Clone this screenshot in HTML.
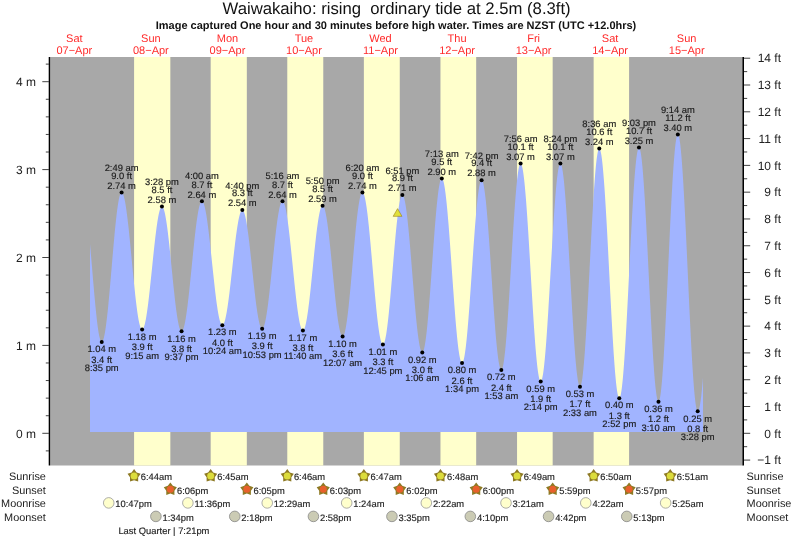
<!DOCTYPE html>
<html><head><meta charset="utf-8"><title>Waiwakaiho tide</title>
<style>
html,body{margin:0;padding:0;background:#fff;}
svg{display:block;}
text{font-family:"Liberation Sans",Arial,Helvetica,sans-serif;fill:#1a1a1a;text-rendering:geometricPrecision;}
.title{font-size:16.7px;text-anchor:middle;fill:#111;}
.sub{font-size:11px;font-weight:bold;text-anchor:middle;fill:#111;}
.day{font-size:11px;text-anchor:middle;fill:#ff2a2a;}
.ax{font-size:12px;fill:#222;}
.dl{font-size:9.4px;text-anchor:middle;fill:#1a1a1a;stroke:#1a1a1a;stroke-width:0.15px;}
.bt{font-size:9.4px;fill:#222;stroke:#222;stroke-width:0.15px;}
.rl{font-size:10.9px;fill:#222;}
</style></head>
<body>
<svg width="793" height="539" viewBox="0 0 793 539">
<rect x="0" y="0" width="793" height="539" fill="#fff"/>
<rect x="50.0" y="57.0" width="692.5" height="408.5" fill="#a8a8a8"/>
<rect x="134.09" y="57.0" width="36.25" height="408.5" fill="#ffffcc"/>
<rect x="210.68" y="57.0" width="36.14" height="408.5" fill="#ffffcc"/>
<rect x="287.28" y="57.0" width="35.98" height="408.5" fill="#ffffcc"/>
<rect x="363.87" y="57.0" width="35.88" height="408.5" fill="#ffffcc"/>
<rect x="440.46" y="57.0" width="35.72" height="408.5" fill="#ffffcc"/>
<rect x="517.05" y="57.0" width="35.61" height="408.5" fill="#ffffcc"/>
<rect x="593.64" y="57.0" width="35.45" height="408.5" fill="#ffffcc"/>
<path d="M90.00,432.00 L90.00,244.08 L90.38,248.32 L90.77,252.66 L91.15,257.08 L91.53,261.56 L91.92,266.07 L92.30,270.60 L92.68,275.14 L93.06,279.66 L93.45,284.15 L93.83,288.58 L94.21,292.94 L94.60,297.21 L94.98,301.37 L95.36,305.41 L95.75,309.31 L96.13,313.05 L96.51,316.62 L96.90,320.00 L97.28,323.18 L97.66,326.14 L98.05,328.88 L98.43,331.38 L98.81,333.64 L99.20,335.63 L99.58,337.37 L99.96,338.82 L100.34,340.00 L100.73,340.90 L101.11,341.51 L101.49,341.83 L101.88,341.86 L102.26,341.62 L102.64,341.10 L103.03,340.31 L103.41,339.25 L103.79,337.93 L104.18,336.35 L104.56,334.51 L104.94,332.43 L105.33,330.11 L105.71,327.56 L106.09,324.78 L106.47,321.80 L106.86,318.61 L107.24,315.24 L107.62,311.69 L108.01,307.98 L108.39,304.12 L108.77,300.12 L109.16,296.00 L109.54,291.78 L109.92,287.47 L110.31,283.08 L110.69,278.63 L111.07,274.14 L111.45,269.63 L111.84,265.10 L112.22,260.59 L112.60,256.10 L112.99,251.65 L113.37,247.25 L113.75,242.93 L114.14,238.70 L114.52,234.57 L114.90,230.56 L115.29,226.69 L115.67,222.96 L116.05,219.40 L116.44,216.01 L116.82,212.81 L117.20,209.81 L117.59,207.02 L117.97,204.44 L118.35,202.10 L118.73,200.00 L119.12,198.14 L119.50,196.54 L119.88,195.19 L120.27,194.11 L120.65,193.30 L121.03,192.76 L121.42,192.49 L121.80,192.49 L122.18,192.72 L122.57,193.20 L122.95,193.91 L123.33,194.84 L123.72,196.01 L124.10,197.40 L124.48,199.01 L124.86,200.83 L125.25,202.86 L125.63,205.09 L126.01,207.51 L126.40,210.11 L126.78,212.89 L127.16,215.84 L127.55,218.94 L127.93,222.19 L128.31,225.57 L128.70,229.07 L129.08,232.68 L129.46,236.39 L129.84,240.19 L130.23,244.05 L130.61,247.98 L130.99,251.95 L131.38,255.95 L131.76,259.96 L132.14,263.98 L132.53,268.00 L132.91,271.98 L133.29,275.93 L133.68,279.83 L134.06,283.66 L134.44,287.42 L134.83,291.08 L135.21,294.64 L135.59,298.09 L135.97,301.41 L136.36,304.59 L136.74,307.62 L137.12,310.48 L137.51,313.18 L137.89,315.70 L138.27,318.03 L138.66,320.17 L139.04,322.10 L139.42,323.82 L139.81,325.32 L140.19,326.61 L140.57,327.66 L140.96,328.49 L141.34,329.09 L141.72,329.45 L142.10,329.58 L142.49,329.47 L142.87,329.14 L143.25,328.59 L143.64,327.81 L144.02,326.81 L144.40,325.59 L144.79,324.16 L145.17,322.53 L145.55,320.69 L145.94,318.66 L146.32,316.45 L146.70,314.05 L147.09,311.49 L147.47,308.76 L147.85,305.89 L148.24,302.88 L148.62,299.73 L149.00,296.47 L149.38,293.11 L149.77,289.66 L150.15,286.12 L150.53,282.52 L150.92,278.86 L151.30,275.17 L151.68,271.45 L152.07,267.71 L152.45,263.98 L152.83,260.26 L153.22,256.57 L153.60,252.93 L153.98,249.34 L154.37,245.82 L154.75,242.38 L155.13,239.03 L155.51,235.79 L155.90,232.67 L156.28,229.68 L156.66,226.83 L157.05,224.14 L157.43,221.60 L157.81,219.24 L158.20,217.06 L158.58,215.06 L158.96,213.26 L159.35,211.66 L159.73,210.27 L160.11,209.09 L160.50,208.13 L160.88,207.39 L161.26,206.88 L161.64,206.59 L162.03,206.52 L162.41,206.69 L162.79,207.09 L163.18,207.73 L163.56,208.60 L163.94,209.69 L164.33,211.00 L164.71,212.54 L165.09,214.28 L165.48,216.24 L165.86,218.39 L166.24,220.73 L166.62,223.25 L167.01,225.94 L167.39,228.80 L167.77,231.81 L168.16,234.95 L168.54,238.23 L168.92,241.62 L169.31,245.11 L169.69,248.69 L170.07,252.35 L170.46,256.07 L170.84,259.84 L171.22,263.65 L171.61,267.47 L171.99,271.30 L172.37,275.12 L172.75,278.92 L173.14,282.68 L173.52,286.39 L173.90,290.03 L174.29,293.59 L174.67,297.06 L175.05,300.42 L175.44,303.67 L175.82,306.78 L176.20,309.75 L176.59,312.57 L176.97,315.23 L177.35,317.71 L177.74,320.00 L178.12,322.10 L178.50,324.01 L178.88,325.70 L179.27,327.19 L179.65,328.45 L180.03,329.49 L180.42,330.30 L180.80,330.88 L181.18,331.22 L181.57,331.34 L181.95,331.22 L182.33,330.87 L182.72,330.30 L183.10,329.50 L183.48,328.49 L183.87,327.25 L184.25,325.81 L184.63,324.15 L185.02,322.30 L185.40,320.24 L185.78,318.00 L186.16,315.58 L186.55,312.99 L186.93,310.23 L187.31,307.32 L187.70,304.26 L188.08,301.08 L188.46,297.77 L188.85,294.35 L189.23,290.83 L189.61,287.23 L190.00,283.55 L190.38,279.82 L190.76,276.03 L191.15,272.22 L191.53,268.38 L191.91,264.53 L192.29,260.69 L192.68,256.87 L193.06,253.09 L193.44,249.35 L193.83,245.67 L194.21,242.06 L194.59,238.53 L194.98,235.10 L195.36,231.79 L195.74,228.59 L196.13,225.52 L196.51,222.60 L196.89,219.83 L197.28,217.22 L197.66,214.78 L198.04,212.52 L198.42,210.45 L198.81,208.58 L199.19,206.91 L199.57,205.44 L199.96,204.19 L200.34,203.16 L200.72,202.34 L201.11,201.75 L201.49,201.38 L201.87,201.25 L202.26,201.33 L202.64,201.63 L203.02,202.14 L203.41,202.87 L203.79,203.80 L204.17,204.94 L204.55,206.29 L204.94,207.83 L205.32,209.57 L205.70,211.49 L206.09,213.59 L206.47,215.86 L206.85,218.30 L207.24,220.90 L207.62,223.64 L208.00,226.52 L208.39,229.52 L208.77,232.65 L209.15,235.88 L209.53,239.20 L209.92,242.61 L210.30,246.09 L210.68,249.63 L211.07,253.22 L211.45,256.84 L211.83,260.48 L212.22,264.14 L212.60,267.79 L212.98,271.42 L213.37,275.03 L213.75,278.59 L214.13,282.10 L214.52,285.55 L214.90,288.92 L215.28,292.20 L215.66,295.37 L216.05,298.44 L216.43,301.38 L216.81,304.20 L217.20,306.86 L217.58,309.38 L217.96,311.74 L218.35,313.92 L218.73,315.93 L219.11,317.76 L219.50,319.40 L219.88,320.84 L220.26,322.09 L220.65,323.12 L221.03,323.95 L221.41,324.57 L221.80,324.98 L222.18,325.17 L222.56,325.14 L222.94,324.91 L223.33,324.47 L223.71,323.82 L224.09,322.97 L224.48,321.92 L224.86,320.67 L225.24,319.23 L225.63,317.60 L226.01,315.79 L226.39,313.81 L226.78,311.66 L227.16,309.35 L227.54,306.88 L227.92,304.28 L228.31,301.54 L228.69,298.68 L229.07,295.71 L229.46,292.63 L229.84,289.46 L230.22,286.22 L230.61,282.91 L230.99,279.54 L231.37,276.12 L231.76,272.68 L232.14,269.22 L232.52,265.75 L232.91,262.29 L233.29,258.85 L233.67,255.44 L234.06,252.08 L234.44,248.77 L234.82,245.53 L235.20,242.37 L235.59,239.30 L235.97,236.33 L236.35,233.48 L236.74,230.75 L237.12,228.16 L237.50,225.70 L237.89,223.40 L238.27,221.26 L238.65,219.29 L239.04,217.49 L239.42,215.88 L239.80,214.45 L240.19,213.22 L240.57,212.18 L240.95,211.34 L241.33,210.71 L241.72,210.28 L242.10,210.07 L242.48,210.06 L242.87,210.26 L243.25,210.69 L243.63,211.33 L244.02,212.19 L244.40,213.26 L244.78,214.53 L245.17,216.01 L245.55,217.68 L245.93,219.54 L246.31,221.59 L246.70,223.81 L247.08,226.20 L247.46,228.75 L247.85,231.45 L248.23,234.29 L248.61,237.25 L249.00,240.34 L249.38,243.53 L249.76,246.82 L250.15,250.19 L250.53,253.63 L250.91,257.14 L251.30,260.68 L251.68,264.26 L252.06,267.85 L252.44,271.45 L252.83,275.05 L253.21,278.62 L253.59,282.16 L253.98,285.65 L254.36,289.08 L254.74,292.44 L255.13,295.72 L255.51,298.89 L255.89,301.96 L256.28,304.91 L256.66,307.73 L257.04,310.40 L257.43,312.93 L257.81,315.29 L258.19,317.49 L258.57,319.50 L258.96,321.34 L259.34,322.98 L259.72,324.42 L260.11,325.66 L260.49,326.69 L260.87,327.52 L261.26,328.12 L261.64,328.52 L262.02,328.69 L262.41,328.64 L262.79,328.37 L263.17,327.88 L263.56,327.17 L263.94,326.25 L264.32,325.11 L264.71,323.75 L265.09,322.20 L265.47,320.44 L265.85,318.49 L266.24,316.35 L266.62,314.03 L267.00,311.55 L267.39,308.89 L267.77,306.09 L268.15,303.14 L268.54,300.06 L268.92,296.85 L269.30,293.54 L269.69,290.12 L270.07,286.62 L270.45,283.04 L270.84,279.39 L271.22,275.70 L271.60,271.97 L271.98,268.21 L272.37,264.45 L272.75,260.68 L273.13,256.93 L273.52,253.21 L273.90,249.53 L274.28,245.90 L274.67,242.34 L275.05,238.86 L275.43,235.47 L275.82,232.19 L276.20,229.02 L276.58,225.97 L276.97,223.06 L277.35,220.30 L277.73,217.69 L278.11,215.25 L278.50,212.98 L278.88,210.89 L279.26,208.99 L279.65,207.29 L280.03,205.79 L280.41,204.50 L280.80,203.42 L281.18,202.55 L281.56,201.90 L281.95,201.47 L282.33,201.26 L282.71,201.28 L283.09,201.52 L283.48,201.99 L283.86,202.67 L284.24,203.58 L284.63,204.70 L285.01,206.04 L285.39,207.58 L285.78,209.32 L286.16,211.27 L286.54,213.40 L286.93,215.71 L287.31,218.20 L287.69,220.86 L288.08,223.67 L288.46,226.62 L288.84,229.72 L289.23,232.94 L289.61,236.27 L289.99,239.71 L290.37,243.23 L290.76,246.84 L291.14,250.51 L291.52,254.24 L291.91,258.00 L292.29,261.80 L292.67,265.60 L293.06,269.41 L293.44,273.21 L293.82,276.98 L294.21,280.71 L294.59,284.39 L294.97,288.01 L295.36,291.54 L295.74,294.99 L296.12,298.34 L296.50,301.58 L296.89,304.69 L297.27,307.66 L297.65,310.49 L298.04,313.17 L298.42,315.68 L298.80,318.01 L299.19,320.17 L299.57,322.14 L299.95,323.91 L300.34,325.48 L300.72,326.84 L301.10,327.99 L301.49,328.92 L301.87,329.64 L302.25,330.13 L302.63,330.40 L303.02,330.45 L303.40,330.26 L303.78,329.84 L304.17,329.19 L304.55,328.31 L304.93,327.20 L305.32,325.88 L305.70,324.33 L306.08,322.58 L306.47,320.62 L306.85,318.46 L307.23,316.12 L307.62,313.60 L308.00,310.90 L308.38,308.05 L308.76,305.04 L309.15,301.90 L309.53,298.63 L309.91,295.24 L310.30,291.75 L310.68,288.18 L311.06,284.53 L311.45,280.82 L311.83,277.06 L312.21,273.26 L312.60,269.45 L312.98,265.63 L313.36,261.82 L313.75,258.03 L314.13,254.28 L314.51,250.59 L314.89,246.95 L315.28,243.40 L315.66,239.94 L316.04,236.58 L316.43,233.35 L316.81,230.24 L317.19,227.27 L317.58,224.46 L317.96,221.81 L318.34,219.33 L318.73,217.04 L319.11,214.93 L319.49,213.03 L319.88,211.33 L320.26,209.84 L320.64,208.58 L321.02,207.53 L321.41,206.71 L321.79,206.12 L322.17,205.76 L322.56,205.64 L322.94,205.75 L323.32,206.10 L323.71,206.68 L324.09,207.49 L324.47,208.53 L324.86,209.80 L325.24,211.29 L325.62,213.00 L326.00,214.91 L326.39,217.03 L326.77,219.34 L327.15,221.84 L327.54,224.52 L327.92,227.37 L328.30,230.37 L328.69,233.52 L329.07,236.81 L329.45,240.22 L329.84,243.74 L330.22,247.36 L330.60,251.07 L330.99,254.84 L331.37,258.68 L331.75,262.56 L332.13,266.48 L332.52,270.41 L332.90,274.34 L333.28,278.26 L333.67,282.15 L334.05,286.01 L334.43,289.81 L334.82,293.54 L335.20,297.20 L335.58,300.76 L335.97,304.21 L336.35,307.54 L336.73,310.74 L337.12,313.80 L337.50,316.71 L337.88,319.45 L338.27,322.01 L338.65,324.39 L339.03,326.58 L339.41,328.58 L339.80,330.36 L340.18,331.93 L340.56,333.28 L340.95,334.40 L341.33,335.30 L341.71,335.97 L342.10,336.40 L342.48,336.60 L342.86,336.55 L343.25,336.24 L343.63,335.67 L344.01,334.83 L344.39,333.74 L344.78,332.39 L345.16,330.79 L345.54,328.94 L345.93,326.86 L346.31,324.55 L346.69,322.02 L347.08,319.27 L347.46,316.33 L347.84,313.19 L348.23,309.88 L348.61,306.39 L348.99,302.76 L349.38,298.98 L349.76,295.07 L350.14,291.06 L350.53,286.94 L350.91,282.74 L351.29,278.48 L351.67,274.16 L352.06,269.81 L352.44,265.44 L352.82,261.06 L353.21,256.70 L353.59,252.37 L353.97,248.08 L354.36,243.85 L354.74,239.70 L355.12,235.64 L355.51,231.69 L355.89,227.86 L356.27,224.16 L356.66,220.61 L357.04,217.23 L357.42,214.01 L357.80,210.99 L358.19,208.16 L358.57,205.54 L358.95,203.13 L359.34,200.96 L359.72,199.01 L360.10,197.31 L360.49,195.86 L360.87,194.65 L361.25,193.71 L361.64,193.03 L362.02,192.61 L362.40,192.45 L362.79,192.57 L363.17,192.94 L363.55,193.57 L363.93,194.47 L364.32,195.61 L364.70,197.02 L365.08,198.66 L365.47,200.55 L365.85,202.68 L366.23,205.03 L366.62,207.60 L367.00,210.39 L367.38,213.37 L367.77,216.54 L368.15,219.90 L368.53,223.42 L368.92,227.10 L369.30,230.92 L369.68,234.87 L370.06,238.94 L370.45,243.11 L370.83,247.36 L371.21,251.69 L371.60,256.08 L371.98,260.51 L372.36,264.97 L372.75,269.44 L373.13,273.91 L373.51,278.36 L373.90,282.77 L374.28,287.14 L374.66,291.44 L375.05,295.66 L375.43,299.79 L375.81,303.81 L376.19,307.70 L376.58,311.47 L376.96,315.08 L377.34,318.53 L377.73,321.81 L378.11,324.90 L378.49,327.80 L378.88,330.49 L379.26,332.97 L379.64,335.23 L380.03,337.26 L380.41,339.04 L380.79,340.59 L381.18,341.88 L381.56,342.92 L381.94,343.71 L382.32,344.23 L382.71,344.49 L383.09,344.48 L383.47,344.20 L383.86,343.62 L384.24,342.77 L384.62,341.63 L385.01,340.23 L385.39,338.55 L385.77,336.60 L386.16,334.41 L386.54,331.96 L386.92,329.28 L387.31,326.37 L387.69,323.24 L388.07,319.91 L388.45,316.39 L388.84,312.69 L389.22,308.82 L389.60,304.81 L389.99,300.66 L390.37,296.39 L390.75,292.03 L391.14,287.57 L391.52,283.05 L391.90,278.48 L392.29,273.87 L392.67,269.25 L393.05,264.64 L393.44,260.04 L393.82,255.47 L394.20,250.97 L394.58,246.53 L394.97,242.19 L395.35,237.95 L395.73,233.83 L396.12,229.85 L396.50,226.02 L396.88,222.36 L397.27,218.89 L397.65,215.60 L398.03,212.53 L398.42,209.67 L398.80,207.04 L399.18,204.66 L399.57,202.52 L399.95,200.64 L400.33,199.03 L400.71,197.68 L401.10,196.61 L401.48,195.83 L401.86,195.32 L402.25,195.10 L402.63,195.17 L403.01,195.52 L403.40,196.16 L403.78,197.08 L404.16,198.28 L404.55,199.76 L404.93,201.50 L405.31,203.51 L405.69,205.78 L406.08,208.29 L406.46,211.04 L406.84,214.02 L407.23,217.22 L407.61,220.62 L407.99,224.22 L408.38,228.00 L408.76,231.94 L409.14,236.04 L409.53,240.28 L409.91,244.63 L410.29,249.10 L410.68,253.65 L411.06,258.28 L411.44,262.96 L411.83,267.68 L412.21,272.43 L412.59,277.18 L412.97,281.91 L413.36,286.62 L413.74,291.28 L414.12,295.88 L414.51,300.39 L414.89,304.81 L415.27,309.12 L415.66,313.30 L416.04,317.33 L416.42,321.20 L416.81,324.90 L417.19,328.42 L417.57,331.73 L417.95,334.84 L418.34,337.72 L418.72,340.37 L419.10,342.77 L419.49,344.93 L419.87,346.82 L420.25,348.45 L420.64,349.80 L421.02,350.88 L421.40,351.68 L421.79,352.19 L422.17,352.42 L422.55,352.35 L422.94,351.95 L423.32,351.22 L423.70,350.17 L424.09,348.79 L424.47,347.09 L424.85,345.09 L425.23,342.78 L425.62,340.17 L426.00,337.28 L426.38,334.12 L426.77,330.70 L427.15,327.03 L427.53,323.12 L427.92,318.99 L428.30,314.66 L428.68,310.15 L429.07,305.46 L429.45,300.62 L429.83,295.64 L430.22,290.55 L430.60,285.37 L430.98,280.11 L431.36,274.79 L431.75,269.44 L432.13,264.07 L432.51,258.71 L432.90,253.37 L433.28,248.08 L433.66,242.85 L434.05,237.71 L434.43,232.68 L434.81,227.77 L435.20,223.00 L435.58,218.40 L435.96,213.97 L436.34,209.74 L436.73,205.72 L437.11,201.93 L437.49,198.38 L437.88,195.09 L438.26,192.06 L438.64,189.31 L439.03,186.85 L439.41,184.70 L439.79,182.84 L440.18,181.31 L440.56,180.09 L440.94,179.20 L441.33,178.63 L441.71,178.40 L442.09,178.49 L442.48,178.91 L442.86,179.66 L443.24,180.72 L443.62,182.11 L444.01,183.81 L444.39,185.81 L444.77,188.11 L445.16,190.71 L445.54,193.59 L445.92,196.74 L446.31,200.15 L446.69,203.81 L447.07,207.70 L447.46,211.82 L447.84,216.15 L448.22,220.67 L448.61,225.36 L448.99,230.22 L449.37,235.22 L449.75,240.34 L450.14,245.57 L450.52,250.89 L450.90,256.28 L451.29,261.72 L451.67,267.20 L452.05,272.68 L452.44,278.16 L452.82,283.61 L453.20,289.02 L453.59,294.36 L453.97,299.61 L454.35,304.77 L454.74,309.80 L455.12,314.70 L455.50,319.44 L455.88,324.01 L456.27,328.39 L456.65,332.57 L457.03,336.53 L457.42,340.25 L457.80,343.73 L458.18,346.95 L458.57,349.91 L458.95,352.58 L459.33,354.96 L459.72,357.05 L460.10,358.83 L460.48,360.30 L460.87,361.45 L461.25,362.29 L461.63,362.80 L462.01,362.98 L462.40,362.83 L462.78,362.33 L463.16,361.49 L463.55,360.31 L463.93,358.80 L464.31,356.95 L464.70,354.78 L465.08,352.30 L465.46,349.51 L465.85,346.42 L466.23,343.05 L466.61,339.41 L467.00,335.52 L467.38,331.38 L467.76,327.01 L468.14,322.44 L468.53,317.67 L468.91,312.73 L469.29,307.63 L469.68,302.40 L470.06,297.05 L470.44,291.60 L470.83,286.08 L471.21,280.50 L471.59,274.89 L471.98,269.26 L472.36,263.65 L472.74,258.06 L473.13,252.53 L473.51,247.07 L473.89,241.70 L474.27,236.44 L474.66,231.32 L475.04,226.34 L475.42,221.54 L475.81,216.93 L476.19,212.53 L476.57,208.35 L476.96,204.41 L477.34,200.72 L477.72,197.30 L478.11,194.16 L478.49,191.32 L478.87,188.78 L479.26,186.55 L479.64,184.64 L480.02,183.07 L480.40,181.83 L480.79,180.92 L481.17,180.36 L481.55,180.15 L481.94,180.29 L482.32,180.77 L482.70,181.61 L483.09,182.80 L483.47,184.33 L483.85,186.20 L484.24,188.40 L484.62,190.92 L485.00,193.76 L485.39,196.90 L485.77,200.33 L486.15,204.04 L486.53,208.01 L486.92,212.24 L487.30,216.69 L487.68,221.37 L488.07,226.24 L488.45,231.30 L488.83,236.52 L489.22,241.88 L489.60,247.37 L489.98,252.96 L490.37,258.63 L490.75,264.37 L491.13,270.14 L491.52,275.93 L491.90,281.72 L492.28,287.49 L492.66,293.21 L493.05,298.86 L493.43,304.42 L493.81,309.87 L494.20,315.19 L494.58,320.37 L494.96,325.37 L495.35,330.19 L495.73,334.80 L496.11,339.19 L496.50,343.34 L496.88,347.24 L497.26,350.87 L497.65,354.22 L498.03,357.27 L498.41,360.01 L498.79,362.44 L499.18,364.54 L499.56,366.31 L499.94,367.75 L500.33,368.83 L500.71,369.57 L501.09,369.95 L501.48,369.98 L501.86,369.61 L502.24,368.84 L502.63,367.68 L503.01,366.12 L503.39,364.18 L503.78,361.86 L504.16,359.16 L504.54,356.11 L504.92,352.71 L505.31,348.98 L505.69,344.92 L506.07,340.56 L506.46,335.92 L506.84,331.00 L507.22,325.84 L507.61,320.44 L507.99,314.84 L508.37,309.05 L508.76,303.09 L509.14,296.99 L509.52,290.78 L509.91,284.47 L510.29,278.09 L510.67,271.67 L511.05,265.23 L511.44,258.79 L511.82,252.39 L512.20,246.04 L512.59,239.77 L512.97,233.61 L513.35,227.58 L513.74,221.69 L514.12,215.99 L514.50,210.48 L514.89,205.19 L515.27,200.13 L515.65,195.34 L516.04,190.83 L516.42,186.61 L516.80,182.70 L517.18,179.12 L517.57,175.88 L517.95,173.00 L518.33,170.47 L518.72,168.33 L519.10,166.56 L519.48,165.19 L519.87,164.21 L520.25,163.63 L520.63,163.45 L521.02,163.66 L521.40,164.27 L521.78,165.26 L522.16,166.64 L522.55,168.40 L522.93,170.53 L523.31,173.03 L523.70,175.89 L524.08,179.09 L524.46,182.62 L524.85,186.48 L525.23,190.65 L525.61,195.11 L526.00,199.85 L526.38,204.84 L526.76,210.08 L527.15,215.55 L527.53,221.22 L527.91,227.07 L528.30,233.08 L528.68,239.24 L529.06,245.51 L529.44,251.89 L529.83,258.33 L530.21,264.83 L530.59,271.35 L530.98,277.88 L531.36,284.39 L531.74,290.85 L532.13,297.25 L532.51,303.56 L532.89,309.76 L533.28,315.82 L533.66,321.73 L534.04,327.46 L534.42,333.00 L534.81,338.32 L535.19,343.40 L535.57,348.22 L535.96,352.78 L536.34,357.04 L536.72,361.01 L537.11,364.65 L537.49,367.97 L537.87,370.94 L538.26,373.56 L538.64,375.81 L539.02,377.70 L539.41,379.20 L539.79,380.33 L540.17,381.06 L540.56,381.41 L540.94,381.36 L541.32,380.91 L541.70,380.05 L542.09,378.79 L542.47,377.12 L542.85,375.07 L543.24,372.63 L543.62,369.82 L544.00,366.64 L544.39,363.12 L544.77,359.25 L545.15,355.05 L545.54,350.55 L545.92,345.75 L546.30,340.68 L546.68,335.35 L547.07,329.79 L547.45,324.02 L547.83,318.05 L548.22,311.90 L548.60,305.62 L548.98,299.20 L549.37,292.69 L549.75,286.10 L550.13,279.46 L550.52,272.80 L550.90,266.13 L551.28,259.49 L551.67,252.89 L552.05,246.37 L552.43,239.94 L552.82,233.64 L553.20,227.48 L553.58,221.50 L553.96,215.70 L554.35,210.11 L554.73,204.76 L555.11,199.66 L555.50,194.83 L555.88,190.30 L556.26,186.07 L556.65,182.17 L557.03,178.60 L557.41,175.38 L557.80,172.53 L558.18,170.05 L558.56,167.96 L558.95,166.26 L559.33,164.95 L559.71,164.05 L560.09,163.55 L560.48,163.46 L560.86,163.79 L561.24,164.54 L561.63,165.70 L562.01,167.28 L562.39,169.26 L562.78,171.64 L563.16,174.41 L563.54,177.56 L563.93,181.07 L564.31,184.94 L564.69,189.15 L565.08,193.68 L565.46,198.52 L565.84,203.65 L566.22,209.04 L566.61,214.69 L566.99,220.56 L567.37,226.64 L567.76,232.90 L568.14,239.31 L568.52,245.87 L568.91,252.53 L569.29,259.28 L569.67,266.08 L570.06,272.93 L570.44,279.77 L570.82,286.61 L571.21,293.39 L571.59,300.11 L571.97,306.74 L572.35,313.24 L572.74,319.61 L573.12,325.80 L573.50,331.80 L573.89,337.59 L574.27,343.15 L574.65,348.45 L575.04,353.47 L575.42,358.20 L575.80,362.61 L576.19,366.69 L576.57,370.43 L576.95,373.81 L577.34,376.82 L577.72,379.45 L578.10,381.68 L578.48,383.51 L578.87,384.94 L579.25,385.95 L579.63,386.54 L580.02,386.71 L580.40,386.44 L580.78,385.70 L581.17,384.51 L581.55,382.86 L581.93,380.76 L582.32,378.22 L582.70,375.25 L583.08,371.87 L583.46,368.07 L583.85,363.89 L584.23,359.33 L584.61,354.42 L585.00,349.16 L585.38,343.59 L585.76,337.73 L586.15,331.59 L586.53,325.20 L586.91,318.59 L587.30,311.78 L587.68,304.80 L588.06,297.67 L588.45,290.43 L588.83,283.10 L589.21,275.70 L589.60,268.28 L589.98,260.85 L590.36,253.45 L590.74,246.11 L591.13,238.85 L591.51,231.70 L591.89,224.69 L592.28,217.84 L592.66,211.20 L593.04,204.77 L593.43,198.58 L593.81,192.66 L594.19,187.04 L594.58,181.73 L594.96,176.75 L595.34,172.12 L595.73,167.87 L596.11,164.01 L596.49,160.55 L596.87,157.50 L597.26,154.88 L597.64,152.71 L598.02,150.97 L598.41,149.70 L598.79,148.88 L599.17,148.52 L599.56,148.62 L599.94,149.18 L600.32,150.19 L600.71,151.64 L601.09,153.53 L601.47,155.86 L601.86,158.62 L602.24,161.79 L602.62,165.36 L603.00,169.33 L603.39,173.67 L603.77,178.38 L604.15,183.42 L604.54,188.80 L604.92,194.48 L605.30,200.45 L605.69,206.68 L606.07,213.15 L606.45,219.84 L606.84,226.73 L607.22,233.78 L607.60,240.98 L607.99,248.30 L608.37,255.70 L608.75,263.17 L609.13,270.68 L609.52,278.19 L609.90,285.69 L610.28,293.14 L610.67,300.53 L611.05,307.81 L611.43,314.97 L611.82,321.97 L612.20,328.80 L612.58,335.43 L612.97,341.84 L613.35,347.99 L613.73,353.88 L614.12,359.47 L614.50,364.75 L614.88,369.70 L615.26,374.30 L615.65,378.53 L616.03,382.38 L616.41,385.84 L616.80,388.89 L617.18,391.52 L617.56,393.72 L617.95,395.48 L618.33,396.80 L618.71,397.68 L619.10,398.10 L619.48,398.07 L619.86,397.57 L620.25,396.61 L620.63,395.18 L621.01,393.31 L621.39,390.98 L621.78,388.21 L622.16,385.02 L622.54,381.40 L622.93,377.39 L623.31,372.98 L623.69,368.20 L624.08,363.06 L624.46,357.59 L624.84,351.81 L625.23,345.73 L625.61,339.38 L625.99,332.78 L626.38,325.95 L626.76,318.94 L627.14,311.74 L627.52,304.41 L627.91,296.95 L628.29,289.41 L628.67,281.81 L629.06,274.17 L629.44,266.53 L629.82,258.91 L630.21,251.34 L630.59,243.85 L630.97,236.47 L631.36,229.23 L631.74,222.15 L632.12,215.26 L632.51,208.58 L632.89,202.15 L633.27,195.97 L633.65,190.08 L634.04,184.50 L634.42,179.25 L634.80,174.35 L635.19,169.82 L635.57,165.67 L635.95,161.92 L636.34,158.58 L636.72,155.67 L637.10,153.19 L637.49,151.16 L637.87,149.59 L638.25,148.47 L638.64,147.82 L639.02,147.63 L639.40,147.92 L639.78,148.69 L640.17,149.94 L640.55,151.66 L640.93,153.86 L641.32,156.51 L641.70,159.61 L642.08,163.15 L642.47,167.11 L642.85,171.49 L643.23,176.25 L643.62,181.40 L644.00,186.89 L644.38,192.72 L644.76,198.86 L645.15,205.29 L645.53,211.99 L645.91,218.92 L646.30,226.06 L646.68,233.39 L647.06,240.88 L647.45,248.49 L647.83,256.21 L648.21,263.99 L648.60,271.82 L648.98,279.65 L649.36,287.47 L649.75,295.24 L650.13,302.93 L650.51,310.51 L650.90,317.95 L651.28,325.23 L651.66,332.32 L652.04,339.19 L652.43,345.81 L652.81,352.16 L653.19,358.22 L653.58,363.96 L653.96,369.36 L654.34,374.40 L654.73,379.05 L655.11,383.32 L655.49,387.16 L655.88,390.58 L656.26,393.56 L656.64,396.09 L657.03,398.15 L657.41,399.74 L657.79,400.86 L658.17,401.49 L658.56,401.65 L658.94,401.29 L659.32,400.43 L659.71,399.05 L660.09,397.16 L660.47,394.77 L660.86,391.89 L661.24,388.54 L661.62,384.72 L662.01,380.44 L662.39,375.73 L662.77,370.61 L663.15,365.09 L663.54,359.19 L663.92,352.94 L664.30,346.36 L664.69,339.48 L665.07,332.32 L665.45,324.91 L665.84,317.29 L666.22,309.47 L666.60,301.49 L666.99,293.38 L667.37,285.18 L667.75,276.91 L668.14,268.60 L668.52,260.30 L668.90,252.02 L669.29,243.80 L669.67,235.68 L670.05,227.68 L670.43,219.84 L670.82,212.19 L671.20,204.75 L671.58,197.56 L671.97,190.64 L672.35,184.02 L672.73,177.72 L673.12,171.78 L673.50,166.20 L673.88,161.02 L674.27,156.26 L674.65,151.93 L675.03,148.04 L675.42,144.62 L675.80,141.68 L676.18,139.23 L676.56,137.27 L676.95,135.82 L677.33,134.89 L677.71,134.47 L678.10,134.56 L678.48,135.16 L678.86,136.26 L679.25,137.87 L679.63,139.97 L680.01,142.56 L680.40,145.62 L680.78,149.16 L681.16,153.14 L681.55,157.56 L681.93,162.41 L682.31,167.66 L682.69,173.30 L683.08,179.30 L683.46,185.65 L683.84,192.31 L684.23,199.27 L684.61,206.50 L684.99,213.98 L685.38,221.66 L685.76,229.54 L686.14,237.58 L686.53,245.74 L686.91,254.01 L687.29,262.34 L687.67,270.71 L688.06,279.09 L688.44,287.45 L688.82,295.75 L689.21,303.97 L689.59,312.08 L689.97,320.04 L690.36,327.83 L690.74,335.42 L691.12,342.78 L691.51,349.88 L691.89,356.71 L692.27,363.22 L692.66,369.40 L693.04,375.23 L693.42,380.68 L693.81,385.74 L694.19,390.39 L694.57,394.60 L694.95,398.37 L695.34,401.68 L695.72,404.51 L696.10,406.87 L696.49,408.73 L696.87,410.10 L697.25,410.96 L697.64,411.31 L698.02,411.21 L698.40,410.73 L698.79,409.88 L699.17,408.66 L699.55,407.09 L699.94,405.15 L700.32,402.86 L700.70,400.22 L701.08,397.25 L701.47,393.94 L701.85,390.31 L702.23,386.36 L702.62,382.11 L703.00,377.58 L703.00,432.00 Z" fill="#a1b4ff"/>
<line x1="49.4" y1="57.0" x2="49.4" y2="465.5" stroke="#000" stroke-width="1.4"/>
<line x1="743.2" y1="57.0" x2="743.2" y2="465.5" stroke="#000" stroke-width="1.6"/>
<line x1="45.8" y1="450.88" x2="49" y2="450.88" stroke="#444" stroke-width="1"/>
<line x1="42.3" y1="433.30" x2="49" y2="433.30" stroke="#444" stroke-width="1"/>
<text x="36" y="437.50" class="ax" text-anchor="end">0 m</text>
<line x1="45.8" y1="415.72" x2="49" y2="415.72" stroke="#444" stroke-width="1"/>
<line x1="45.8" y1="398.14" x2="49" y2="398.14" stroke="#444" stroke-width="1"/>
<line x1="45.8" y1="380.56" x2="49" y2="380.56" stroke="#444" stroke-width="1"/>
<line x1="45.8" y1="362.98" x2="49" y2="362.98" stroke="#444" stroke-width="1"/>
<line x1="42.3" y1="345.40" x2="49" y2="345.40" stroke="#444" stroke-width="1"/>
<text x="36" y="349.60" class="ax" text-anchor="end">1 m</text>
<line x1="45.8" y1="327.82" x2="49" y2="327.82" stroke="#444" stroke-width="1"/>
<line x1="45.8" y1="310.24" x2="49" y2="310.24" stroke="#444" stroke-width="1"/>
<line x1="45.8" y1="292.66" x2="49" y2="292.66" stroke="#444" stroke-width="1"/>
<line x1="45.8" y1="275.08" x2="49" y2="275.08" stroke="#444" stroke-width="1"/>
<line x1="42.3" y1="257.50" x2="49" y2="257.50" stroke="#444" stroke-width="1"/>
<text x="36" y="261.70" class="ax" text-anchor="end">2 m</text>
<line x1="45.8" y1="239.92" x2="49" y2="239.92" stroke="#444" stroke-width="1"/>
<line x1="45.8" y1="222.34" x2="49" y2="222.34" stroke="#444" stroke-width="1"/>
<line x1="45.8" y1="204.76" x2="49" y2="204.76" stroke="#444" stroke-width="1"/>
<line x1="45.8" y1="187.18" x2="49" y2="187.18" stroke="#444" stroke-width="1"/>
<line x1="42.3" y1="169.60" x2="49" y2="169.60" stroke="#444" stroke-width="1"/>
<text x="36" y="173.80" class="ax" text-anchor="end">3 m</text>
<line x1="45.8" y1="152.02" x2="49" y2="152.02" stroke="#444" stroke-width="1"/>
<line x1="45.8" y1="134.44" x2="49" y2="134.44" stroke="#444" stroke-width="1"/>
<line x1="45.8" y1="116.86" x2="49" y2="116.86" stroke="#444" stroke-width="1"/>
<line x1="45.8" y1="99.28" x2="49" y2="99.28" stroke="#444" stroke-width="1"/>
<line x1="42.3" y1="81.70" x2="49" y2="81.70" stroke="#444" stroke-width="1"/>
<text x="36" y="85.90" class="ax" text-anchor="end">4 m</text>
<line x1="45.8" y1="64.12" x2="49" y2="64.12" stroke="#444" stroke-width="1"/>
<line x1="744" y1="460.09" x2="750.2" y2="460.09" stroke="#444" stroke-width="1"/>
<text x="781" y="464.29" class="ax" text-anchor="end">−1 ft</text>
<line x1="744" y1="446.70" x2="747.2" y2="446.70" stroke="#444" stroke-width="1"/>
<line x1="744" y1="433.30" x2="750.2" y2="433.30" stroke="#444" stroke-width="1"/>
<text x="781" y="437.50" class="ax" text-anchor="end">0 ft</text>
<line x1="744" y1="419.90" x2="747.2" y2="419.90" stroke="#444" stroke-width="1"/>
<line x1="744" y1="406.51" x2="750.2" y2="406.51" stroke="#444" stroke-width="1"/>
<text x="781" y="410.71" class="ax" text-anchor="end">1 ft</text>
<line x1="744" y1="393.11" x2="747.2" y2="393.11" stroke="#444" stroke-width="1"/>
<line x1="744" y1="379.72" x2="750.2" y2="379.72" stroke="#444" stroke-width="1"/>
<text x="781" y="383.92" class="ax" text-anchor="end">2 ft</text>
<line x1="744" y1="366.32" x2="747.2" y2="366.32" stroke="#444" stroke-width="1"/>
<line x1="744" y1="352.92" x2="750.2" y2="352.92" stroke="#444" stroke-width="1"/>
<text x="781" y="357.12" class="ax" text-anchor="end">3 ft</text>
<line x1="744" y1="339.53" x2="747.2" y2="339.53" stroke="#444" stroke-width="1"/>
<line x1="744" y1="326.13" x2="750.2" y2="326.13" stroke="#444" stroke-width="1"/>
<text x="781" y="330.33" class="ax" text-anchor="end">4 ft</text>
<line x1="744" y1="312.74" x2="747.2" y2="312.74" stroke="#444" stroke-width="1"/>
<line x1="744" y1="299.34" x2="750.2" y2="299.34" stroke="#444" stroke-width="1"/>
<text x="781" y="303.54" class="ax" text-anchor="end">5 ft</text>
<line x1="744" y1="285.94" x2="747.2" y2="285.94" stroke="#444" stroke-width="1"/>
<line x1="744" y1="272.55" x2="750.2" y2="272.55" stroke="#444" stroke-width="1"/>
<text x="781" y="276.75" class="ax" text-anchor="end">6 ft</text>
<line x1="744" y1="259.15" x2="747.2" y2="259.15" stroke="#444" stroke-width="1"/>
<line x1="744" y1="245.76" x2="750.2" y2="245.76" stroke="#444" stroke-width="1"/>
<text x="781" y="249.96" class="ax" text-anchor="end">7 ft</text>
<line x1="744" y1="232.36" x2="747.2" y2="232.36" stroke="#444" stroke-width="1"/>
<line x1="744" y1="218.96" x2="750.2" y2="218.96" stroke="#444" stroke-width="1"/>
<text x="781" y="223.16" class="ax" text-anchor="end">8 ft</text>
<line x1="744" y1="205.57" x2="747.2" y2="205.57" stroke="#444" stroke-width="1"/>
<line x1="744" y1="192.17" x2="750.2" y2="192.17" stroke="#444" stroke-width="1"/>
<text x="781" y="196.37" class="ax" text-anchor="end">9 ft</text>
<line x1="744" y1="178.78" x2="747.2" y2="178.78" stroke="#444" stroke-width="1"/>
<line x1="744" y1="165.38" x2="750.2" y2="165.38" stroke="#444" stroke-width="1"/>
<text x="781" y="169.58" class="ax" text-anchor="end">10 ft</text>
<line x1="744" y1="151.98" x2="747.2" y2="151.98" stroke="#444" stroke-width="1"/>
<line x1="744" y1="138.59" x2="750.2" y2="138.59" stroke="#444" stroke-width="1"/>
<text x="781" y="142.79" class="ax" text-anchor="end">11 ft</text>
<line x1="744" y1="125.19" x2="747.2" y2="125.19" stroke="#444" stroke-width="1"/>
<line x1="744" y1="111.80" x2="750.2" y2="111.80" stroke="#444" stroke-width="1"/>
<text x="781" y="116.00" class="ax" text-anchor="end">12 ft</text>
<line x1="744" y1="98.40" x2="747.2" y2="98.40" stroke="#444" stroke-width="1"/>
<line x1="744" y1="85.01" x2="750.2" y2="85.01" stroke="#444" stroke-width="1"/>
<text x="781" y="89.21" class="ax" text-anchor="end">13 ft</text>
<line x1="744" y1="71.61" x2="747.2" y2="71.61" stroke="#444" stroke-width="1"/>
<line x1="744" y1="58.21" x2="750.2" y2="58.21" stroke="#444" stroke-width="1"/>
<text x="781" y="62.41" class="ax" text-anchor="end">14 ft</text>
<circle cx="101.72" cy="341.88" r="2" fill="#000"/>
<text x="101.72" y="352.18" class="dl">1.04 m</text>
<text x="101.72" y="362.58" class="dl">3.4 ft</text>
<text x="101.72" y="370.88" class="dl">8:35 pm</text>
<circle cx="121.60" cy="192.45" r="2" fill="#000"/>
<text x="121.60" y="170.65" class="dl">2:49 am</text>
<text x="121.60" y="178.75" class="dl">9.0 ft</text>
<text x="121.60" y="188.75" class="dl">2.74 m</text>
<circle cx="142.12" cy="329.58" r="2" fill="#000"/>
<text x="142.12" y="339.88" class="dl">1.18 m</text>
<text x="142.12" y="350.28" class="dl">3.9 ft</text>
<text x="142.12" y="358.58" class="dl">9:15 am</text>
<circle cx="161.94" cy="206.52" r="2" fill="#000"/>
<text x="161.94" y="185.22" class="dl">3:28 pm</text>
<text x="161.94" y="192.82" class="dl">8.5 ft</text>
<text x="161.94" y="202.82" class="dl">2.58 m</text>
<circle cx="181.56" cy="331.34" r="2" fill="#000"/>
<text x="181.56" y="341.64" class="dl">1.16 m</text>
<text x="181.56" y="352.04" class="dl">3.8 ft</text>
<text x="181.56" y="360.34" class="dl">9:37 pm</text>
<circle cx="201.91" cy="201.24" r="2" fill="#000"/>
<text x="201.91" y="179.44" class="dl">4:00 am</text>
<text x="201.91" y="187.54" class="dl">8.7 ft</text>
<text x="201.91" y="197.54" class="dl">2.64 m</text>
<circle cx="222.33" cy="325.18" r="2" fill="#000"/>
<text x="222.33" y="335.48" class="dl">1.23 m</text>
<text x="222.33" y="345.88" class="dl">4.0 ft</text>
<text x="222.33" y="354.18" class="dl">10:24 am</text>
<circle cx="242.31" cy="210.03" r="2" fill="#000"/>
<text x="242.31" y="188.73" class="dl">4:40 pm</text>
<text x="242.31" y="196.33" class="dl">8.3 ft</text>
<text x="242.31" y="206.33" class="dl">2.54 m</text>
<circle cx="262.14" cy="328.70" r="2" fill="#000"/>
<text x="262.14" y="339.00" class="dl">1.19 m</text>
<text x="262.14" y="349.40" class="dl">3.9 ft</text>
<text x="262.14" y="357.70" class="dl">10:53 pm</text>
<circle cx="282.49" cy="201.24" r="2" fill="#000"/>
<text x="282.49" y="179.44" class="dl">5:16 am</text>
<text x="282.49" y="187.54" class="dl">8.7 ft</text>
<text x="282.49" y="197.54" class="dl">2.64 m</text>
<circle cx="302.90" cy="330.46" r="2" fill="#000"/>
<text x="302.90" y="340.76" class="dl">1.17 m</text>
<text x="302.90" y="351.16" class="dl">3.8 ft</text>
<text x="302.90" y="359.46" class="dl">11:40 am</text>
<circle cx="322.57" cy="205.64" r="2" fill="#000"/>
<text x="322.57" y="184.34" class="dl">5:50 pm</text>
<text x="322.57" y="191.94" class="dl">8.5 ft</text>
<text x="322.57" y="201.94" class="dl">2.59 m</text>
<circle cx="342.61" cy="336.61" r="2" fill="#000"/>
<text x="342.61" y="346.91" class="dl">1.10 m</text>
<text x="342.61" y="357.31" class="dl">3.6 ft</text>
<text x="342.61" y="365.61" class="dl">12:07 am</text>
<circle cx="362.43" cy="192.45" r="2" fill="#000"/>
<text x="362.43" y="170.65" class="dl">6:20 am</text>
<text x="362.43" y="178.75" class="dl">9.0 ft</text>
<text x="362.43" y="188.75" class="dl">2.74 m</text>
<circle cx="382.90" cy="344.52" r="2" fill="#000"/>
<text x="382.90" y="354.82" class="dl">1.01 m</text>
<text x="382.90" y="365.22" class="dl">3.3 ft</text>
<text x="382.90" y="373.52" class="dl">12:45 pm</text>
<circle cx="402.35" cy="195.09" r="2" fill="#000"/>
<text x="402.35" y="173.79" class="dl">6:51 pm</text>
<text x="402.35" y="181.39" class="dl">8.9 ft</text>
<text x="402.35" y="191.39" class="dl">2.71 m</text>
<circle cx="422.28" cy="352.43" r="2" fill="#000"/>
<text x="422.28" y="362.73" class="dl">0.92 m</text>
<text x="422.28" y="373.13" class="dl">3.0 ft</text>
<text x="422.28" y="381.43" class="dl">1:06 am</text>
<circle cx="441.79" cy="178.39" r="2" fill="#000"/>
<text x="441.79" y="156.59" class="dl">7:13 am</text>
<text x="441.79" y="164.69" class="dl">9.5 ft</text>
<text x="441.79" y="174.69" class="dl">2.90 m</text>
<circle cx="462.04" cy="362.98" r="2" fill="#000"/>
<text x="462.04" y="373.28" class="dl">0.80 m</text>
<text x="462.04" y="383.68" class="dl">2.6 ft</text>
<text x="462.04" y="391.98" class="dl">1:34 pm</text>
<circle cx="481.60" cy="180.15" r="2" fill="#000"/>
<text x="481.60" y="158.85" class="dl">7:42 pm</text>
<text x="481.60" y="166.45" class="dl">9.4 ft</text>
<text x="481.60" y="176.45" class="dl">2.88 m</text>
<circle cx="501.32" cy="370.01" r="2" fill="#000"/>
<text x="501.32" y="380.31" class="dl">0.72 m</text>
<text x="501.32" y="390.71" class="dl">2.4 ft</text>
<text x="501.32" y="399.01" class="dl">1:53 am</text>
<circle cx="520.61" cy="163.45" r="2" fill="#000"/>
<text x="520.61" y="141.65" class="dl">7:56 am</text>
<text x="520.61" y="149.75" class="dl">10.1 ft</text>
<text x="520.61" y="159.75" class="dl">3.07 m</text>
<circle cx="540.70" cy="381.44" r="2" fill="#000"/>
<text x="540.70" y="391.74" class="dl">0.59 m</text>
<text x="540.70" y="402.14" class="dl">1.9 ft</text>
<text x="540.70" y="410.44" class="dl">2:14 pm</text>
<circle cx="560.37" cy="163.45" r="2" fill="#000"/>
<text x="560.37" y="142.15" class="dl">8:24 pm</text>
<text x="560.37" y="149.75" class="dl">10.1 ft</text>
<text x="560.37" y="159.75" class="dl">3.07 m</text>
<circle cx="579.98" cy="386.71" r="2" fill="#000"/>
<text x="579.98" y="397.01" class="dl">0.53 m</text>
<text x="579.98" y="407.41" class="dl">1.7 ft</text>
<text x="579.98" y="415.71" class="dl">2:33 am</text>
<circle cx="599.28" cy="148.50" r="2" fill="#000"/>
<text x="599.28" y="126.70" class="dl">8:36 am</text>
<text x="599.28" y="134.80" class="dl">10.6 ft</text>
<text x="599.28" y="144.80" class="dl">3.24 m</text>
<circle cx="619.26" cy="398.14" r="2" fill="#000"/>
<text x="619.26" y="408.44" class="dl">0.40 m</text>
<text x="619.26" y="418.84" class="dl">1.3 ft</text>
<text x="619.26" y="427.14" class="dl">2:52 pm</text>
<circle cx="638.98" cy="147.62" r="2" fill="#000"/>
<text x="638.98" y="126.33" class="dl">9:03 pm</text>
<text x="638.98" y="133.93" class="dl">10.7 ft</text>
<text x="638.98" y="143.93" class="dl">3.25 m</text>
<circle cx="658.49" cy="401.66" r="2" fill="#000"/>
<text x="658.49" y="411.96" class="dl">0.36 m</text>
<text x="658.49" y="422.36" class="dl">1.2 ft</text>
<text x="658.49" y="430.66" class="dl">3:10 am</text>
<circle cx="677.83" cy="134.44" r="2" fill="#000"/>
<text x="677.83" y="112.64" class="dl">9:14 am</text>
<text x="677.83" y="120.74" class="dl">11.2 ft</text>
<text x="677.83" y="130.74" class="dl">3.40 m</text>
<circle cx="697.71" cy="411.32" r="2" fill="#000"/>
<text x="697.71" y="421.62" class="dl">0.25 m</text>
<text x="697.71" y="432.02" class="dl">0.8 ft</text>
<text x="697.71" y="440.32" class="dl">3:28 pm</text>
<polygon points="397.57,208.65 401.97,216.35 393.17,216.35" fill="#e0e03a" stroke="#9a8018" stroke-width="0.6"/>
<text x="74.35" y="41.8" class="day">Sat</text>
<text x="74.35" y="53.8" class="day">07−Apr</text>
<text x="150.89" y="41.8" class="day">Sun</text>
<text x="150.89" y="53.8" class="day">08−Apr</text>
<text x="227.43" y="41.8" class="day">Mon</text>
<text x="227.43" y="53.8" class="day">09−Apr</text>
<text x="303.97" y="41.8" class="day">Tue</text>
<text x="303.97" y="53.8" class="day">10−Apr</text>
<text x="380.50" y="41.8" class="day">Wed</text>
<text x="380.50" y="53.8" class="day">11−Apr</text>
<text x="457.04" y="41.8" class="day">Thu</text>
<text x="457.04" y="53.8" class="day">12−Apr</text>
<text x="533.58" y="41.8" class="day">Fri</text>
<text x="533.58" y="53.8" class="day">13−Apr</text>
<text x="610.12" y="41.8" class="day">Sat</text>
<text x="610.12" y="53.8" class="day">14−Apr</text>
<text x="686.66" y="41.8" class="day">Sun</text>
<text x="686.66" y="53.8" class="day">15−Apr</text>
<text x="396.6" y="14.1" class="title">Waiwakaiho: rising  ordinary tide at 2.5m (8.3ft)</text>
<text x="396" y="28.6" class="sub">Image captured One hour and 30 minutes before high water. Times are NZST (UTC +12.0hrs)</text>
<polygon points="134.09,469.10 136.62,472.52 140.66,473.87 138.18,477.33 138.15,481.58 134.09,480.30 130.04,481.58 130.00,477.33 127.53,473.87 131.57,472.52" fill="#8e7a24"/><circle cx="134.09" cy="476.00" r="3.5" fill="#dcdc3c"/>
<text x="140.69" y="480.00" class="bt">6:44am</text>
<polygon points="210.68,469.10 213.21,472.52 217.25,473.87 214.77,477.33 214.74,481.58 210.68,480.30 206.63,481.58 206.60,477.33 204.12,473.87 208.16,472.52" fill="#8e7a24"/><circle cx="210.68" cy="476.00" r="3.5" fill="#dcdc3c"/>
<text x="217.28" y="480.00" class="bt">6:45am</text>
<polygon points="287.28,469.10 289.80,472.52 293.84,473.87 291.37,477.33 291.33,481.58 287.28,480.30 283.22,481.58 283.19,477.33 280.71,473.87 284.75,472.52" fill="#8e7a24"/><circle cx="287.28" cy="476.00" r="3.5" fill="#dcdc3c"/>
<text x="293.88" y="480.00" class="bt">6:46am</text>
<polygon points="363.87,469.10 366.40,472.52 370.43,473.87 367.96,477.33 367.92,481.58 363.87,480.30 359.81,481.58 359.78,477.33 357.31,473.87 361.34,472.52" fill="#8e7a24"/><circle cx="363.87" cy="476.00" r="3.5" fill="#dcdc3c"/>
<text x="370.47" y="480.00" class="bt">6:47am</text>
<polygon points="440.46,469.10 442.99,472.52 447.02,473.87 444.55,477.33 444.52,481.58 440.46,480.30 436.40,481.58 436.37,477.33 433.90,473.87 437.93,472.52" fill="#8e7a24"/><circle cx="440.46" cy="476.00" r="3.5" fill="#dcdc3c"/>
<text x="447.06" y="480.00" class="bt">6:48am</text>
<polygon points="517.05,469.10 519.58,472.52 523.61,473.87 521.14,477.33 521.11,481.58 517.05,480.30 513.00,481.58 512.96,477.33 510.49,473.87 514.52,472.52" fill="#8e7a24"/><circle cx="517.05" cy="476.00" r="3.5" fill="#dcdc3c"/>
<text x="523.65" y="480.00" class="bt">6:49am</text>
<polygon points="593.64,469.10 596.17,472.52 600.20,473.87 597.73,477.33 597.70,481.58 593.64,480.30 589.59,481.58 589.55,477.33 587.08,473.87 591.12,472.52" fill="#8e7a24"/><circle cx="593.64" cy="476.00" r="3.5" fill="#dcdc3c"/>
<text x="600.24" y="480.00" class="bt">6:50am</text>
<polygon points="670.23,469.10 672.76,472.52 676.80,473.87 674.32,477.33 674.29,481.58 670.23,480.30 666.18,481.58 666.14,477.33 663.67,473.87 667.71,472.52" fill="#8e7a24"/><circle cx="670.23" cy="476.00" r="3.5" fill="#dcdc3c"/>
<text x="676.83" y="480.00" class="bt">6:51am</text>
<polygon points="170.34,482.40 172.87,485.82 176.90,487.17 174.43,490.63 174.40,494.88 170.34,493.60 166.29,494.88 166.25,490.63 163.78,487.17 167.82,485.82" fill="#8e7a24"/><circle cx="170.34" cy="489.30" r="3.5" fill="#e8602c"/>
<text x="176.94" y="493.80" class="bt">6:06pm</text>
<polygon points="246.83,482.40 249.36,485.82 253.39,487.17 250.92,490.63 250.88,494.88 246.83,493.60 242.77,494.88 242.74,490.63 240.27,487.17 244.30,485.82" fill="#8e7a24"/><circle cx="246.83" cy="489.30" r="3.5" fill="#e8602c"/>
<text x="253.43" y="493.80" class="bt">6:05pm</text>
<polygon points="323.26,482.40 325.79,485.82 329.82,487.17 327.35,490.63 327.32,494.88 323.26,493.60 319.20,494.88 319.17,490.63 316.70,487.17 320.73,485.82" fill="#8e7a24"/><circle cx="323.26" cy="489.30" r="3.5" fill="#e8602c"/>
<text x="329.86" y="493.80" class="bt">6:03pm</text>
<polygon points="399.75,482.40 402.27,485.82 406.31,487.17 403.83,490.63 403.80,494.88 399.75,493.60 395.69,494.88 395.66,490.63 393.18,487.17 397.22,485.82" fill="#8e7a24"/><circle cx="399.75" cy="489.30" r="3.5" fill="#e8602c"/>
<text x="406.35" y="493.80" class="bt">6:02pm</text>
<polygon points="476.18,482.40 478.70,485.82 482.74,487.17 480.27,490.63 480.23,494.88 476.18,493.60 472.12,494.88 472.09,490.63 469.62,487.17 473.65,485.82" fill="#8e7a24"/><circle cx="476.18" cy="489.30" r="3.5" fill="#e8602c"/>
<text x="482.78" y="493.80" class="bt">6:00pm</text>
<polygon points="552.66,482.40 555.19,485.82 559.22,487.17 556.75,490.63 556.72,494.88 552.66,493.60 548.61,494.88 548.57,490.63 546.10,487.17 550.14,485.82" fill="#8e7a24"/><circle cx="552.66" cy="489.30" r="3.5" fill="#e8602c"/>
<text x="559.26" y="493.80" class="bt">5:59pm</text>
<polygon points="629.09,482.40 631.62,485.82 635.66,487.17 633.18,490.63 633.15,494.88 629.09,493.60 625.04,494.88 625.01,490.63 622.53,487.17 626.57,485.82" fill="#8e7a24"/><circle cx="629.09" cy="489.30" r="3.5" fill="#e8602c"/>
<text x="635.69" y="493.80" class="bt">5:57pm</text>
<circle cx="108.74" cy="502.9" r="5.3" fill="#ffffcc" stroke="#999" stroke-width="0.8"/>
<text x="115.34" y="507.20" class="bt">10:47pm</text>
<circle cx="187.88" cy="502.9" r="5.3" fill="#ffffcc" stroke="#999" stroke-width="0.8"/>
<text x="194.48" y="507.20" class="bt">11:36pm</text>
<circle cx="267.24" cy="502.9" r="5.3" fill="#ffffcc" stroke="#999" stroke-width="0.8"/>
<text x="273.84" y="507.20" class="bt">12:29am</text>
<circle cx="346.70" cy="502.9" r="5.3" fill="#ffffcc" stroke="#999" stroke-width="0.8"/>
<text x="353.30" y="507.20" class="bt">1:24am</text>
<circle cx="426.32" cy="502.9" r="5.3" fill="#ffffcc" stroke="#999" stroke-width="0.8"/>
<text x="432.92" y="507.20" class="bt">2:22am</text>
<circle cx="506.00" cy="502.9" r="5.3" fill="#ffffcc" stroke="#999" stroke-width="0.8"/>
<text x="512.60" y="507.20" class="bt">3:21am</text>
<circle cx="585.78" cy="502.9" r="5.3" fill="#ffffcc" stroke="#999" stroke-width="0.8"/>
<text x="592.38" y="507.20" class="bt">4:22am</text>
<circle cx="665.66" cy="502.9" r="5.3" fill="#ffffcc" stroke="#999" stroke-width="0.8"/>
<text x="672.26" y="507.20" class="bt">5:25am</text>
<circle cx="155.89" cy="516.4" r="5.3" fill="#cbcbb4" stroke="#888" stroke-width="0.8"/>
<text x="162.49" y="521.00" class="bt">1:34pm</text>
<circle cx="234.76" cy="516.4" r="5.3" fill="#cbcbb4" stroke="#888" stroke-width="0.8"/>
<text x="241.36" y="521.00" class="bt">2:18pm</text>
<circle cx="313.43" cy="516.4" r="5.3" fill="#cbcbb4" stroke="#888" stroke-width="0.8"/>
<text x="320.03" y="521.00" class="bt">2:58pm</text>
<circle cx="391.93" cy="516.4" r="5.3" fill="#cbcbb4" stroke="#888" stroke-width="0.8"/>
<text x="398.53" y="521.00" class="bt">3:35pm</text>
<circle cx="470.33" cy="516.4" r="5.3" fill="#cbcbb4" stroke="#888" stroke-width="0.8"/>
<text x="476.93" y="521.00" class="bt">4:10pm</text>
<circle cx="548.57" cy="516.4" r="5.3" fill="#cbcbb4" stroke="#888" stroke-width="0.8"/>
<text x="555.17" y="521.00" class="bt">4:42pm</text>
<circle cx="626.76" cy="516.4" r="5.3" fill="#cbcbb4" stroke="#888" stroke-width="0.8"/>
<text x="633.36" y="521.00" class="bt">5:13pm</text>
<text x="118.4" y="533.7" class="bt">Last Quarter | 7:21pm</text>
<text x="45.9" y="480.00" class="rl" text-anchor="end">Sunrise</text>
<text x="746.6" y="480.00" class="rl">Sunrise</text>
<text x="45.9" y="494.00" class="rl" text-anchor="end">Sunset</text>
<text x="746.6" y="494.00" class="rl">Sunset</text>
<text x="45.9" y="507.00" class="rl" text-anchor="end">Moonrise</text>
<text x="746.6" y="507.00" class="rl">Moonrise</text>
<text x="45.9" y="521.00" class="rl" text-anchor="end">Moonset</text>
<text x="746.6" y="521.00" class="rl">Moonset</text>
</svg>
</body></html>
